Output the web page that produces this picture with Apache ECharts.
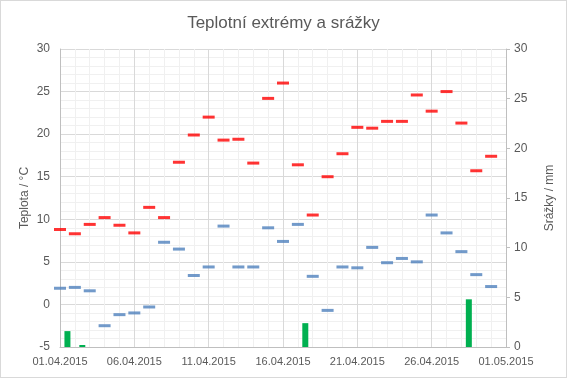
<!DOCTYPE html>
<html>
<head>
<meta charset="utf-8">
<script src="https://cdn.jsdelivr.net/npm/echarts@6/dist/echarts.min.js"></script>
<style>
  html, body { margin: 0; padding: 0; background: #fff; }
  #chart { width: 567px; height: 378px; box-sizing: border-box; border: 1px solid #d9d9d9; }
</style>
</head>
<body>
<div id="chart"></div>
<script>
// denní hodnoty 1.4. - 30.4.2015
var tMax = [8.8, 8.3, 9.4, 10.2, 9.3, 8.4, 11.4, 10.2, 16.7, 19.9,
            22.0, 19.3, 19.4, 16.6, 24.2, 26.0, 16.4, 10.5, 15.0, 17.7,
            20.8, 20.7, 21.5, 21.5, 24.6, 22.7, 25.0, 21.3, 15.7, 17.4];
var tMin = [1.9, 2.0, 1.6, -2.5, -1.2, -1.0, -0.3, 7.3, 6.5, 3.4,
            4.4, 9.2, 4.4, 4.4, 9.0, 7.4, 9.4, 3.3, -0.7, 4.4,
            4.3, 6.7, 4.9, 5.4, 5.0, 10.5, 8.4, 6.2, 3.5, 2.1];
var srazky = [1.6, 0.2, 0, 0, 0, 0, 0, 0, 0, 0,
              0, 0, 0, 0, 0, 0, 2.4, 0, 0, 0,
              0, 0, 0, 0, 0, 0, 0, 4.8, 0, 0];
var xLabels = ['01.04.2015', '06.04.2015', '11.04.2015', '16.04.2015',
               '21.04.2015', '26.04.2015', '01.05.2015'];

var maxData = [], minData = [], rainData = [];
for (var i = 0; i < tMax.length; i++) {
  maxData.push([i, tMax[i]]);
  minData.push([i, tMin[i]]);
  rainData.push([i + 0.5, srazky[i]]);
}

var txt = '#595959';
var font = 'Liberation Sans';
var myChart = echarts.init(document.getElementById('chart'));
var option = {
  animation: false,
  title: {
    text: 'Teplotní extrémy a srážky',
    left: 'center',
    top: 9,
    textStyle: { fontFamily: font, fontSize: 17, fontWeight: 'normal', color: txt }
  },
  grid: { left: 59, right: 60, top: 48, bottom: 30 },
  xAxis: {
    type: 'value',
    min: 0,
    max: 30,
    interval: 5,
    axisLine: { show: true, onZero: false, lineStyle: { color: '#bfbfbf' } },
    axisTick: { show: false },
    axisLabel: {
      color: txt, fontFamily: font, fontSize: 11, margin: 9,
      formatter: function(v) { return xLabels[v / 5]; }
    },
    splitLine: { show: true, lineStyle: { color: '#d9d9d9' } },
    minorSplitLine: { show: true, lineStyle: { color: '#f0f0f0' } },
    minorTick: { show: false, splitNumber: 5 }
  },
  yAxis: [{
    type: 'value',
    name: 'Teplota / °C',
    nameLocation: 'middle',
    nameRotate: 90,
    nameGap: 29,
    nameMoveOverlap: false,
    nameTextStyle: { color: txt, fontFamily: font, fontSize: 12 },
    min: -5,
    max: 30,
    interval: 5,
    axisLine: { show: true, lineStyle: { color: '#bfbfbf' } },
    axisTick: { show: false },
    axisLabel: { color: txt, fontFamily: font, fontSize: 12, margin: 10 },
    splitLine: { show: true, lineStyle: { color: '#d9d9d9' } },
    minorSplitLine: { show: true, lineStyle: { color: '#f0f0f0' } },
    minorTick: { show: false, splitNumber: 5 }
  }, {
    type: 'value',
    position: 'right',
    name: 'Srážky / mm',
    nameLocation: 'middle',
    nameRotate: 90,
    nameGap: 38,
    nameMoveOverlap: false,
    nameTextStyle: { color: txt, fontFamily: font, fontSize: 12 },
    min: 0,
    max: 30,
    interval: 5,
    axisLine: { show: true, lineStyle: { color: '#bfbfbf' } },
    axisTick: { show: true, length: 4, lineStyle: { color: '#bfbfbf' } },
    axisLabel: { color: txt, fontFamily: font, fontSize: 12, margin: 8 },
    splitLine: { show: false }
  }],
  series: [{
    name: 'Srážky',
    type: 'bar',
    yAxisIndex: 1,
    barWidth: 6,
    itemStyle: { color: '#00b050' },
    data: rainData
  }, {
    name: 'Max',
    type: 'scatter',
    symbol: 'rect',
    symbolSize: [12, 3],
    itemStyle: { color: '#ff0000' },
    data: maxData
  }, {
    name: 'Min',
    type: 'scatter',
    symbol: 'rect',
    symbolSize: [12, 3],
    itemStyle: { color: '#4f81bd' },
    data: minData
  }]
};
myChart.setOption(option);
</script>
</body>
</html>
